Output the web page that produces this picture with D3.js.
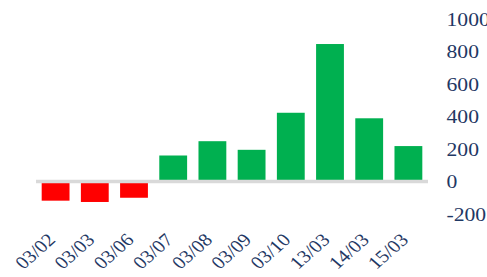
<!DOCTYPE html>
<html>
<head>
<meta charset="utf-8">
<script src="https://cdn.jsdelivr.net/npm/d3@7"></script>
<style>
  body { margin: 0; background: #fff; }
  text { font-family: "Liberation Serif", "DejaVu Serif", serif; fill: #1F3864; }
</style>
</head>
<body>
<svg id="chart" width="487" height="277"></svg>
<script>
// data
var dates = ['03/02', '03/03', '03/06', '03/07', '03/08', '03/09', '03/10', '13/03', '14/03', '15/03'];
var values = [-118, -126, -100, 160, 248, 195, 423, 846, 389, 218];
var yTicks = [-200, 0, 200, 400, 600, 800, 1000];

var svg = d3.select('#chart');

var x = d3.scaleBand()
    .domain(dates)
    .range([36, 428])
    .paddingInner(0.29)
    .paddingOuter(0.145);

var y = d3.scaleLinear()
    .domain([-200, 1000])
    .range([214, 19]);

// bars
svg.selectAll('rect.bar')
    .data(dates)
    .enter()
    .append('rect')
    .attr('class', 'bar')
    .attr('x', d => x(d))
    .attr('width', x.bandwidth())
    .attr('y', (d, i) => y(Math.max(0, values[i])))
    .attr('height', (d, i) => Math.abs(y(values[i]) - y(0)))
    .attr('fill', (d, i) => values[i] < 0 ? '#FF0000' : '#00B050');

// zero line
svg.append('line')
    .attr('x1', 36).attr('x2', 428)
    .attr('y1', y(0)).attr('y2', y(0))
    .attr('stroke', '#D9D9D9')
    .attr('stroke-width', 3.5);

// y axis on the right, labels only (text is a bit stretched sideways in the original)
var yAxis = svg.append('g')
    .attr('transform', 'translate(446.5,0)')
    .call(d3.axisRight(y).tickValues(yTicks).tickSize(0).tickPadding(0).tickFormat(d => String(d)));
yAxis.select('.domain').remove();
yAxis.selectAll('text')
    .attr('font-size', 19)
    .attr('font-family', '"Liberation Serif", serif')
    .attr('fill', '#1F3864')
    .attr('transform', 'scale(1.14,1)');

// x axis, rotated labels
var xAxis = svg.append('g')
    .attr('transform', 'translate(0,241)')
    .call(d3.axisBottom(x).tickSize(0).tickPadding(0));
xAxis.select('.domain').remove();
xAxis.selectAll('text')
    .attr('font-size', 18)
    .attr('font-family', '"Liberation Serif", serif')
    .attr('fill', '#1F3864')
    .attr('text-anchor', 'end')
    .attr('dy', 0)
    .attr('y', 0)
    .attr('transform', 'translate(1,0) scale(1.14,1) rotate(-45)');
</script>
</body>
</html>
